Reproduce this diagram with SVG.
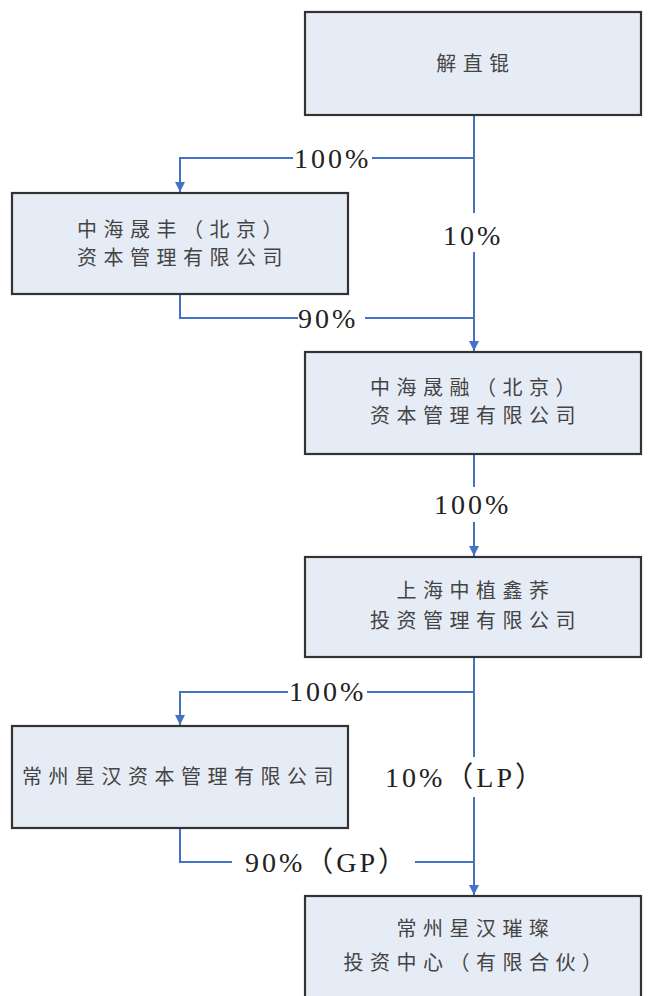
<svg xmlns="http://www.w3.org/2000/svg" width="654" height="996" viewBox="0 0 654 996">
<style>
.box{fill:#e6ecf6;stroke:#333;stroke-width:2.2}
.t{font-family:"Liberation Serif","Noto Sans CJK SC",serif;font-size:20px;fill:#444;text-anchor:middle;letter-spacing:6.5px}
.n{font-family:"Liberation Serif","Noto Sans CJK SC",serif;font-size:28px;fill:#222;letter-spacing:3px}
.c{fill:none;stroke:#4472c4;stroke-width:2}
</style>
<defs>
<marker id="ah" viewBox="0 0 10 10" refX="10" refY="5" markerWidth="5" markerHeight="5" orient="auto" markerUnits="strokeWidth">
<path d="M0,0 L10,5 L0,10 z" fill="#4472c4"/>
</marker>
</defs>
<rect width="654" height="996" fill="#fff"/>
<g id="connectors">
<path class="c" d="M474,115 V213"/>
<path class="c" d="M474,252 V351" marker-end="url(#ah)"/>
<path class="c" d="M474,158 H372"/>
<path class="c" d="M293,158 H180 V192" marker-end="url(#ah)"/>
<path class="c" d="M180,294 V318 H298"/>
<path class="c" d="M365,318 H474"/>
<path class="c" d="M474,454 V487"/>
<path class="c" d="M474,522 V556" marker-end="url(#ah)"/>
<path class="c" d="M474,657 V757"/>
<path class="c" d="M474,797 V895" marker-end="url(#ah)"/>
<path class="c" d="M474,692 H367"/>
<path class="c" d="M288,692 H180 V725" marker-end="url(#ah)"/>
<path class="c" d="M180,828 V862 H232"/>
<path class="c" d="M415,862 H474"/>
<text class="n" x="294" y="168">100%</text>
<text class="n" x="443" y="245">10%</text>
<text class="n" x="298" y="328">90%</text>
<text class="n" x="434" y="514">100%</text>
<text class="n" x="289" y="701">100%</text>
<text class="n" x="385" y="787">10%（LP）</text>
<text class="n" x="245" y="872">90%（GP）</text>
</g>
<g id="n1">
<rect class="box" x="305" y="12" width="336" height="103"/>
<text class="t" x="476" y="71">解直锟</text>
</g>
<g id="n2">
<rect class="box" x="12" y="193" width="336" height="101"/>
<text class="t" x="183" y="237">中海晟丰（北京）</text>
<text class="t" x="183" y="265">资本管理有限公司</text>
</g>
<g id="n3">
<rect class="box" x="305" y="352" width="336" height="102"/>
<text class="t" x="476" y="395">中海晟融（北京）</text>
<text class="t" x="476" y="423">资本管理有限公司</text>
</g>
<g id="n4">
<rect class="box" x="305" y="557" width="336" height="100"/>
<text class="t" x="476" y="598">上海中植鑫荞</text>
<text class="t" x="476" y="628">投资管理有限公司</text>
</g>
<g id="n5">
<rect class="box" x="12" y="726" width="336" height="102"/>
<text class="t" x="181" y="784">常州星汉资本管理有限公司</text>
</g>
<g id="n6">
<rect class="box" x="305" y="896" width="336" height="104"/>
<text class="t" x="476" y="936">常州星汉璀璨</text>
<text class="t" x="476" y="970">投资中心（有限合伙）</text>
</g>
</svg>
